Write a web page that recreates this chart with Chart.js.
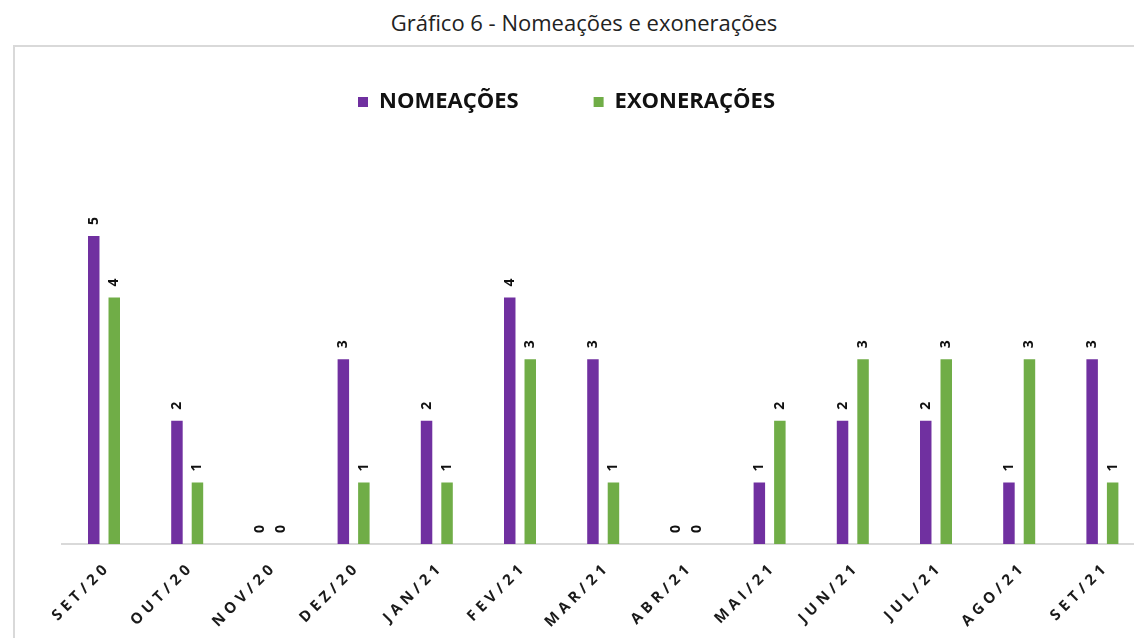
<!DOCTYPE html>
<html>
<head>
<meta charset="utf-8">
<script src="https://cdn.jsdelivr.net/npm/chart.js@4"></script>
<style>
  html, body { margin: 0; padding: 0; background: #fff; overflow: hidden; width: 1134px; height: 638px; }
  #titulo { position: absolute; top: 7px; left: 0; width: 1168px; text-align: center;
            font: 22px "Open Sans", sans-serif; line-height: 30px; color: #222; }
  #moldura { position: absolute; left: 13px; top: 45px; width: 1200px; height: 700px;
             border-left: 2px solid #d9d9d9; border-top: 2px solid #d9d9d9; }
  #grafico { position: absolute; left: -30px; top: 0; }
</style>
</head>
<body>
<div id="titulo">Gráfico 6 - Nomeações e exonerações</div>
<div id="moldura"></div>
<canvas id="grafico" width="1174" height="638"></canvas>
<script>
var meses = ['SET/20', 'OUT/20', 'NOV/20', 'DEZ/20', 'JAN/21', 'FEV/21', 'MAR/21', 'ABR/21', 'MAI/21', 'JUN/21', 'JUL/21', 'AGO/21', 'SET/21'];
var nomeacoes = [5, 2, 0, 3, 2, 4, 3, 0, 1, 2, 2, 1, 3];
var exoneracoes = [4, 1, 0, 1, 1, 3, 1, 0, 2, 3, 3, 3, 1];

// numeros em pe em cima de cada barra
var valoresBarras = {
  id: 'valoresBarras',
  afterDatasetsDraw: function (chart) {
    var ctx = chart.ctx;
    chart.data.datasets.forEach(function (ds, di) {
      chart.getDatasetMeta(di).data.forEach(function (bar, i) {
        ctx.save();
        ctx.translate(bar.x, bar.y - 11);
        ctx.rotate(-Math.PI / 2);
        ctx.font = 'bold 14px "Open Sans"';
        ctx.fillStyle = '#111';
        ctx.textAlign = 'left';
        ctx.textBaseline = 'middle';
        ctx.fillText(String(ds.data[i]), 0, 0);
        ctx.restore();
      });
    });
  }
};

// rotulos do eixo x inclinados, letra a letra pra dar o espacamento
var rotulosMeses = {
  id: 'rotulosMeses',
  afterDraw: function (chart) {
    var ctx = chart.ctx;
    var sx = chart.scales.x;
    var esp = 4.5;
    meses.forEach(function (m, i) {
      ctx.save();
      ctx.translate(sx.getPixelForTick(i) + 1, sx.top + 24);
      ctx.rotate(-Math.PI / 4);
      ctx.font = 'bold 15px "Open Sans"';
      ctx.fillStyle = '#1a1a1a';
      ctx.textAlign = 'left';
      ctx.textBaseline = 'middle';
      var letras = m.split('');
      var total = esp * (letras.length - 1);
      letras.forEach(function (c) { total += ctx.measureText(c).width; });
      var x = -total;
      letras.forEach(function (c) {
        ctx.fillText(c, x, 0);
        x += ctx.measureText(c).width + esp;
      });
      ctx.restore();
    });
  }
};

var grafico = new Chart(document.getElementById('grafico'), {
  type: 'bar',
  data: {
    labels: meses,
    datasets: [{
      label: 'NOMEAÇÕES',
      data: nomeacoes,
      backgroundColor: '#7030a0',
      categoryPercentage: 0.493,
      barPercentage: 0.56
    }, {
      label: 'EXONERAÇÕES',
      data: exoneracoes,
      backgroundColor: '#70ad47',
      categoryPercentage: 0.493,
      barPercentage: 0.56
    }]
  },
  options: {
    responsive: false,
    animation: false,
    layout: { padding: { left: 19, right: 0, top: 16, bottom: 0 } },
    plugins: {
      legend: {
        position: 'top',
        labels: {
          boxWidth: 10,
          boxHeight: 10,
          padding: 75,
          color: '#111',
          font: { family: 'Open Sans', size: 22, weight: 'bold' }
        }
      },
      tooltip: { enabled: false }
    },
    scales: {
      x: {
        grid: { display: false },
        border: { color: '#d9d9d9', width: 2 },
        ticks: { display: false },
        afterFit: function (s) { s.height = 94; }
      },
      xTopo: {
        type: 'category',
        position: 'top',
        grid: { display: false },
        border: { display: false },
        ticks: { display: false },
        afterFit: function (s) { s.height = 51.4; }
      },
      y: {
        min: 0,
        max: 6,
        grid: { display: false },
        border: { display: false },
        ticks: { display: false },
        afterFit: function (s) { s.width = 73.4; }
      }
    }
  },
  plugins: [valoresBarras, rotulosMeses]
});
</script>
</body>
</html>
